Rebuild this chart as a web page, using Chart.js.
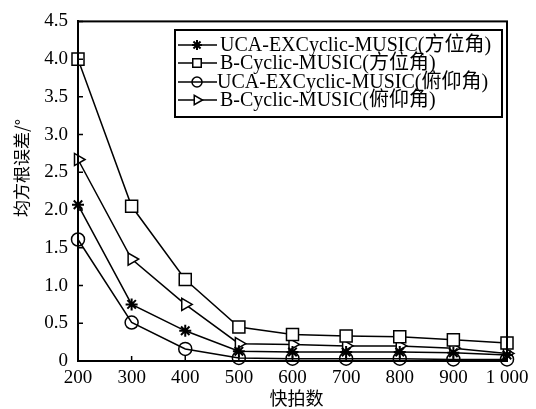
<!DOCTYPE html>
<html>
<head>
<meta charset="utf-8">
<script src="https://cdn.jsdelivr.net/npm/chart.js@4.4.0/dist/chart.umd.min.js"></script>
<style>
html,body{margin:0;padding:0;background:#fff;}
#wrap{position:relative;width:536px;height:409px;}
</style>
</head>
<body>
<div id="wrap"><canvas id="c" width="536" height="409"></canvas></div>
<script>
const categories = ['200','300','400','500','600','700','800','900','1 000'];
const uca_az  = [2.07, 0.75, 0.40, 0.13, 0.12, 0.12, 0.12, 0.11, 0.08];
const bc_az   = [4.00, 2.05, 1.08, 0.45, 0.35, 0.33, 0.32, 0.28, 0.24];
const uca_el  = [1.61, 0.51, 0.16, 0.04, 0.03, 0.03, 0.03, 0.02, 0.02];
const bc_el   = [2.67, 1.35, 0.75, 0.23, 0.22, 0.20, 0.20, 0.17, 0.10];
const seriesNames = ['UCA-EXCyclic-MUSIC(方位角)','B-Cyclic-MUSIC(方位角)','UCA-EXCyclic-MUSIC(俯仰角)','B-Cyclic-MUSIC(俯仰角)'];
const yTicks = [0,0.5,1.0,1.5,2.0,2.5,3.0,3.5,4.0,4.5];
const xTitle = '快拍数';
const yTitle = '均方根误差/°';

const FONT_LAT = '"Liberation Serif", "Noto Sans CJK SC", serif';

const base = {borderColor:'#000', borderWidth:1.5, pointBorderColor:'#000', pointBorderWidth:1.5, tension:0, clip:false};
const datasets = [
  Object.assign({label:seriesNames[0], data:uca_az, pointStyle:'star', pointRadius:6, pointBackgroundColor:'#000'}, base, {pointBorderWidth:2}),
  Object.assign({label:seriesNames[1], data:bc_az, pointStyle:'rect', pointRadius:8.5, pointBackgroundColor:'#fff'}, base),
  Object.assign({label:seriesNames[2], data:uca_el, pointStyle:'circle', pointRadius:6.5, pointBackgroundColor:'rgba(0,0,0,0)'}, base),
  Object.assign({label:seriesNames[3], data:bc_el, pointStyle:'triangle', pointRotation:90, pointRadius:7, pointBackgroundColor:'#fff'}, base)
];

const decor = {
  id:'decor',
  afterDraw(chart){
    const ctx = chart.ctx, a = chart.chartArea;
    const xs = chart.scales.x, ys = chart.scales.y;
    ctx.save();
    // frame
    ctx.strokeStyle = '#000'; ctx.lineWidth = 2;
    ctx.strokeRect(a.left, a.top, a.right - a.left, a.bottom - a.top);
    // inward ticks
    ctx.lineWidth = 1.5;
    ctx.beginPath();
    for (let i = 0; i < xs.ticks.length; i++) {
      const px = xs.getPixelForTick(i);
      ctx.moveTo(px, a.bottom); ctx.lineTo(px, a.bottom - 5);
    }
    for (let i = 0; i < ys.ticks.length; i++) {
      const py = ys.getPixelForTick(i);
      ctx.moveTo(a.left, py); ctx.lineTo(a.left + 5, py);
    }
    ctx.stroke();
    // axis titles
    ctx.fillStyle = '#000';
    ctx.font = '18px "Noto Sans CJK SC", sans-serif';
    ctx.textAlign = 'center'; ctx.textBaseline = 'middle';
    ctx.fillText(xTitle, (a.left + a.right) / 2 + 4, 398);
    ctx.save();
    ctx.translate(22, 168);
    ctx.rotate(-Math.PI / 2);
    ctx.font = '17px "Noto Sans CJK SC", sans-serif';
    ctx.fillText(yTitle, 0, 0);
    ctx.restore();
    // legend
    const bx = 175, by = 30, bw = 327, bh = 87;
    ctx.fillStyle = '#fff';
    ctx.fillRect(bx, by, bw, bh);
    ctx.lineWidth = 2; ctx.strokeStyle = '#000';
    ctx.strokeRect(bx, by, bw, bh);
    const rows = [45, 63, 82, 100];
    const textX = [220, 220, 217, 220];
    const legR = [5, 6, 5, 5.5];
    chart.data.datasets.forEach((ds, i) => {
      const y = rows[i];
      ctx.lineWidth = 1.5; ctx.strokeStyle = '#000';
      ctx.beginPath(); ctx.moveTo(178, y); ctx.lineTo(217, y); ctx.stroke();
      ctx.fillStyle = ds.pointBackgroundColor;
      ctx.lineWidth = ds.pointBorderWidth;
      Chart.helpers.drawPoint(ctx, {pointStyle: ds.pointStyle, rotation: ds.pointRotation || 0, radius: legR[i], borderWidth: ds.pointBorderWidth}, 197, y);
      ctx.fillStyle = '#000';
      ctx.font = '20px ' + FONT_LAT;
      ctx.textAlign = 'left'; ctx.textBaseline = 'middle';
      ctx.fillText(ds.label, textX[i], y + 1);
    });
    ctx.restore();
  }
};

new Chart(document.getElementById('c'), {
  type: 'line',
  data: { labels: categories, datasets: datasets },
  options: {
    responsive: false,
    animation: false,
    devicePixelRatio: 1,
    layout: { padding: { left: 0, right: 29, top: 20, bottom: 0 } },
    plugins: { legend: { display: false }, tooltip: { enabled: false } },
    scales: {
      x: {
        type: 'category',
        offset: false,
        grid: { display: false, drawTicks: false },
        border: { display: true, color: '#000', width: 2 },
        ticks: { color: '#000', padding: 6, maxRotation: 0, autoSkip: false, font: { family: FONT_LAT, size: 19 } },
        afterFit(s){ s.height = 48; }
      },
      y: {
        min: 0, max: 4.5,
        afterBuildTicks(s){ s.ticks = yTicks.map(v => ({value: v})); },
        grid: { display: false, drawTicks: false },
        border: { display: true, color: '#000', width: 2 },
        ticks: { color: '#000', padding: 10, font: { family: FONT_LAT, size: 19 },
          callback: v => v === 0 ? '0' : v.toFixed(1) },
        afterFit(s){ s.width = 78; }
      }
    }
  },
  plugins: [decor]
});
</script>
</body>
</html>
